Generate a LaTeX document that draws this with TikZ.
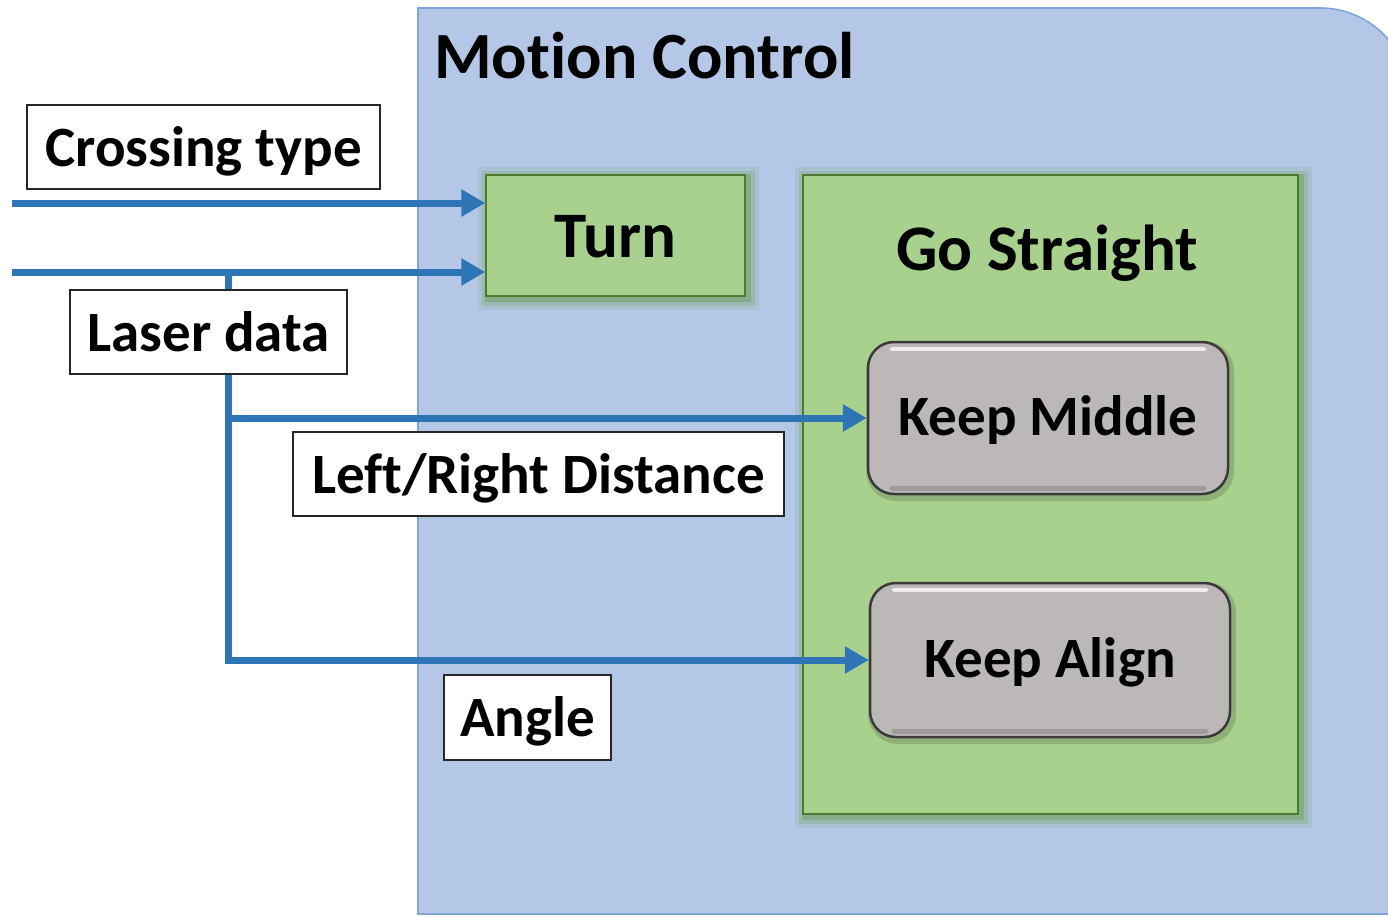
\documentclass[tikz,border=0pt]{standalone}
\usepackage{fontspec}
\setmainfont{Carlito}[Ligatures=NoCommon]
\usetikzlibrary{arrows.meta}
\definecolor{mcblue}{HTML}{B4C7E7}
\definecolor{mcedge}{HTML}{7FA5D9}
\definecolor{grn}{HTML}{A9D18E}
\definecolor{grnedge}{HTML}{4E7A2F}
\definecolor{glowc}{HTML}{5C9A3A}
\definecolor{gry}{HTML}{BCB8B7}
\definecolor{gryedge}{HTML}{3A3A3A}
\definecolor{flowblue}{HTML}{2E75B6}
\begin{document}
\begin{tikzpicture}[x=1pt,y=-1pt,
  lab/.style={draw=black!85, line width=1.3pt, fill=white, inner sep=0pt,
    font=\fontsize{57}{60}\selectfont\bfseries, text height=43pt, text depth=5pt},
  greenbox/.style={fill=grn, draw=grnedge, line width=1.5pt, inner sep=0pt,
    preaction={draw=glowc, line width=22pt, draw opacity=0.12, transform canvas={xshift=3pt,yshift=-3pt}},
    preaction={draw=glowc, line width=14pt, draw opacity=0.2, transform canvas={xshift=3pt,yshift=-3pt}},
    preaction={draw=glowc, line width=7pt, draw opacity=0.35, transform canvas={xshift=2pt,yshift=-2pt}}},
  greybox/.style={fill=gry, draw=gryedge, line width=2.5pt, rounded corners=26pt, inner sep=0pt,
    font=\fontsize{57}{60}\selectfont\bfseries, text height=40pt, text depth=6pt,
    preaction={draw=black, line width=8pt, draw opacity=0.15, transform canvas={xshift=2pt,yshift=-3pt}},
    path picture={
      \draw[white, line width=4pt, opacity=0.75, line cap=round]
        ([xshift=24pt,yshift=-7pt]path picture bounding box.north west) --
        ([xshift=-24pt,yshift=-7pt]path picture bounding box.north east);
      \draw[black, line width=5pt, opacity=0.15, line cap=round]
        ([xshift=24pt,yshift=6pt]path picture bounding box.south west) --
        ([xshift=-24pt,yshift=6pt]path picture bounding box.south east);}},
  flow/.style={draw=flowblue, line width=7pt, -{Triangle[length=24pt,width=26pt]}},
  ttl/.style={font=\fontsize{#1}{#1}\selectfont\bfseries, inner sep=0pt}]
\useasboundingbox (0,0) rectangle (1388,916);
\clip (0,0) rectangle (1388,916);
% Motion Control container
\path[fill=mcblue, draw=mcedge, line width=1.6pt]
  (418,914) -- (418,8) -- (1320,8) .. controls (1369.7,8) and (1410,48.3) .. (1410,98)
  -- (1410,914) -- cycle;
\node[ttl=66, anchor=base west] (mctitle) at (434,78) {Motion Control};
% boxes
\node[greenbox, minimum width=259pt, minimum height=121pt,
  font=\fontsize{65}{68}\selectfont\bfseries, text height=48pt, text depth=5pt] (turn) at (615.5,235.5) {Turn};
\node[greenbox, minimum width=495pt, minimum height=639pt] (gs) at (1050.5,494.5) {};
\node[ttl=65, anchor=base] (gstitle) at (1047,270) {Go Straight};
\node[greybox, minimum width=360pt, minimum height=152pt] (keepmid) at (1048,418) {Keep Middle};
\node[greybox, minimum width=360pt, minimum height=154pt] (keepalign) at (1050,660) {Keep Align};
% connectors
\coordinate (in1) at (12,203);
\coordinate (in2) at (12,272);
\coordinate (br) at (228,272);
\draw[flow] (in1) -- (in1 -| turn.west);
\draw[flow] (in2) -- (in2 -| turn.west);
\draw[flow] (br) |- (keepmid.west);
\draw[flow] (br) |- (keepalign.west);
% labels
\node[lab, minimum width=353pt, minimum height=84pt] (crossing) at (203.5,147) {Crossing type};
\node[lab, minimum width=277pt, minimum height=84pt] (laser) at (208.5,332) {Laser data};
\node[lab, minimum width=491pt, minimum height=84pt] (lrdist) at (538.5,474) {Left/Right Distance};
\node[lab, minimum width=167pt, minimum height=85pt] (angle) at (527.5,717.5) {Angle};
\end{tikzpicture}
\end{document}
